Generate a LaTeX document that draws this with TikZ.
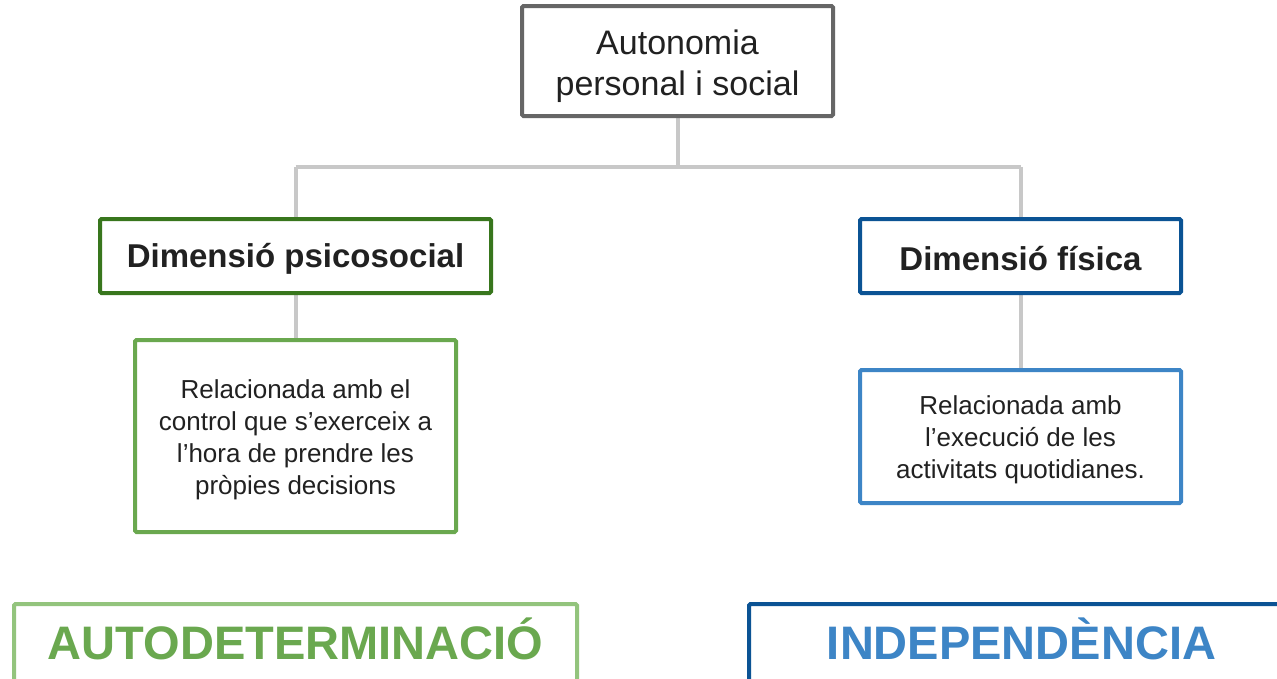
\documentclass[tikz,border=0pt]{standalone}
\usepackage{fontspec}
\setmainfont{Liberation Sans}
\definecolor{linegray}{HTML}{C8C8C8}
\definecolor{topgray}{HTML}{666666}
\definecolor{dkgreen}{HTML}{38761D}
\definecolor{midgreen}{HTML}{6AA84F}
\definecolor{ltgreen}{HTML}{93C47D}
\definecolor{dkblue}{HTML}{0B5394}
\definecolor{midblue}{HTML}{3D85C6}
\definecolor{textc}{HTML}{212121}
\tikzset{
  frame/.style={draw, line width=4pt, rectangle, fill=white, inner sep=0pt,
    rounded corners=1.5pt},
  boxtext/.style={inner sep=0pt, text=textc, align=center},
  titlebox/.style={frame, draw=topgray, minimum width=311pt, minimum height=110pt},
  titletext/.style={boxtext, font=\fontsize{34}{41}\selectfont},
  dimbox/.style={frame, minimum height=74pt},
  dimtext/.style={boxtext, font=\bfseries\fontsize{33}{40}\selectfont},
  descbox/.style={frame, minimum width=321pt},
  desctext/.style={boxtext, font=\fontsize{26}{32}\selectfont},
  bigbox/.style={frame, minimum height=100pt},
  bigtext/.style={anchor=base, inner sep=0pt, font=\bfseries\fontsize{47}{56}\selectfont},
  connector/.style={draw=linegray, line width=4pt}
}
\begin{document}
\begin{tikzpicture}[x=1pt, y=-1pt]
\useasboundingbox (0,0) rectangle (1277,678);
\clip (0,0) rectangle (1277,678);
\fill[white] (0,0) rectangle (1277,678);

% connectors (drawn first, behind boxes)
\coordinate (hub) at (677.5,167);
\coordinate (hl) at (295.5,167);
\coordinate (hr) at (1020.5,167);
\coordinate (topb) at (677.5,118);
\draw[connector] (topb) -- (hub);
\draw[connector] (hl) -- (hr);
\coordinate (pl) at (295.5,217);
\coordinate (pr) at (1020.5,217);
\draw[connector] (hl) -- (pl);
\draw[connector] (hr) -- (pr);
\coordinate (pls) at (295.5,295);
\coordinate (pld) at (295.5,338);
\coordinate (prs) at (1020.5,295);
\coordinate (prd) at (1020.5,368);
\draw[connector] (pls) -- (pld);
\draw[connector] (prs) -- (prd);

% boxes
\node[titlebox] (top) at (677.5,61) {};
\node[titletext] (toptext) at ([yshift=-5pt]top.center) {Autonomia\\personal i social};
\node[dimbox, draw=dkgreen, minimum width=391pt] (psico) at (295.5,256) {};
\node[dimtext] (psicotext) at ([yshift=-3pt]psico.center) {Dimensió psicosocial};
\node[dimbox, draw=dkblue, minimum width=321pt] (fisica) at (1020.5,256) {};
\node[dimtext] (fisicatext) at ([yshift=-3pt]fisica.center) {Dimensió física};
\node[descbox, draw=midgreen, minimum height=192pt] (psicodesc) at (295.5,436) {};
\node[desctext] (psicodesctext) at ([yshift=-3.5pt]psicodesc.center)
  {Relacionada amb el\\control que s’exerceix a\\l’hora de prendre les\\pròpies decisions};
\node[descbox, draw=midblue, minimum height=133pt] (fisicadesc) at (1020.5,436.5) {};
\node[desctext] (fisicadesctext) at ([yshift=-3.5pt]fisicadesc.center)
  {Relacionada amb\\l’execució de les\\activitats quotidianes.};

% bottom boxes (cut by the lower edge)
\node[bigbox, draw=ltgreen, minimum width=563pt] (autobox) at (295.5,654) {};
\node[bigtext, text=midgreen] (autotext) at (295.5,659) {AUTODETERMINACIÓ};
\node[bigbox, draw=dkblue, minimum width=546pt] (indbox) at (1022,654) {};
\node[bigtext, text=midblue] (indtext) at (1021.5,659) {INDEPENDÈNCIA};
\end{tikzpicture}
\end{document}
